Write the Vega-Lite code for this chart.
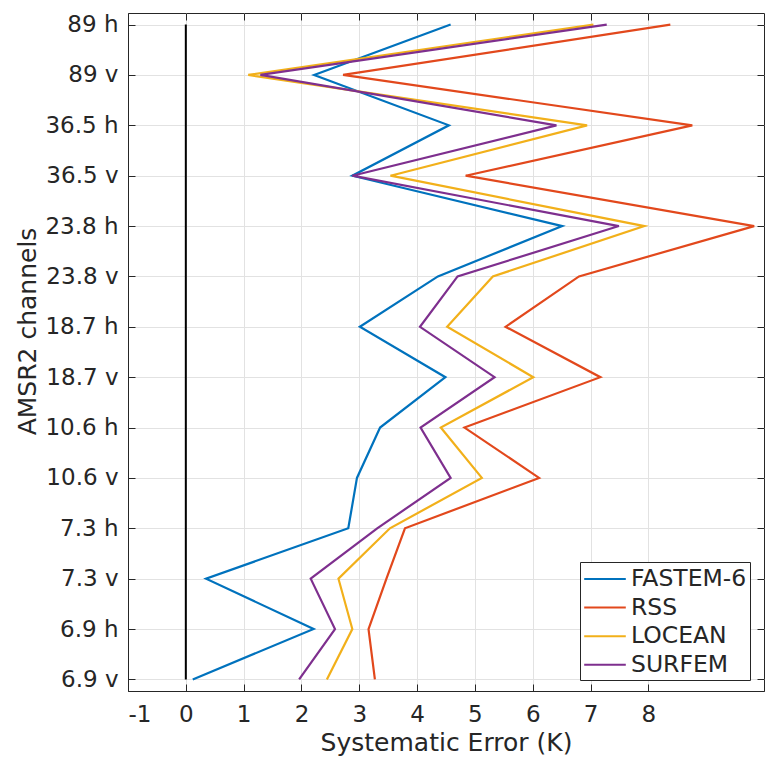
{
  "$schema": "https://vega.github.io/schema/vega-lite/v6.json",
  "width": 636,
  "height": 678,
  "padding": {"left": 128, "top": 13, "right": 2, "bottom": 69},
  "autosize": {"type": "none"},
  "background": "white",
  "config": {
    "font": "DejaVu Sans",
    "view": {"stroke": "#262626", "strokeWidth": 1},
    "axis": {
      "labelFont": "DejaVu Sans",
      "titleFont": "DejaVu Sans",
      "labelFontSize": 23,
      "titleFontSize": 25,
      "labelColor": "#262626",
      "titleColor": "#262626",
      "titleFontWeight": "normal",
      "domainColor": "#262626",
      "tickColor": "#262626",
      "tickSize": -7,
      "gridColor": "#e2e2e2",
      "gridWidth": 1
    }
  },
  "datasets": {
    "errors": [
      {"model": "FASTEM-6", "idx": 1, "ch": "6.9 v", "err": 0.12},
      {"model": "FASTEM-6", "idx": 2, "ch": "6.9 h", "err": 2.21},
      {"model": "FASTEM-6", "idx": 3, "ch": "7.3 v", "err": 0.35},
      {"model": "FASTEM-6", "idx": 4, "ch": "7.3 h", "err": 2.81},
      {"model": "FASTEM-6", "idx": 5, "ch": "10.6 v", "err": 2.96},
      {"model": "FASTEM-6", "idx": 6, "ch": "10.6 h", "err": 3.36},
      {"model": "FASTEM-6", "idx": 7, "ch": "18.7 v", "err": 4.49},
      {"model": "FASTEM-6", "idx": 8, "ch": "18.7 h", "err": 3.01},
      {"model": "FASTEM-6", "idx": 9, "ch": "23.8 v", "err": 4.36},
      {"model": "FASTEM-6", "idx": 10, "ch": "23.8 h", "err": 6.51},
      {"model": "FASTEM-6", "idx": 11, "ch": "36.5 v", "err": 2.88},
      {"model": "FASTEM-6", "idx": 12, "ch": "36.5 h", "err": 4.55},
      {"model": "FASTEM-6", "idx": 13, "ch": "89 v", "err": 2.22},
      {"model": "FASTEM-6", "idx": 14, "ch": "89 h", "err": 4.58},
      {"model": "RSS", "idx": 1, "ch": "6.9 v", "err": 3.27},
      {"model": "RSS", "idx": 2, "ch": "6.9 h", "err": 3.16},
      {"model": "RSS", "idx": 3, "ch": "7.3 v", "err": 3.47},
      {"model": "RSS", "idx": 4, "ch": "7.3 h", "err": 3.79},
      {"model": "RSS", "idx": 5, "ch": "10.6 v", "err": 6.11},
      {"model": "RSS", "idx": 6, "ch": "10.6 h", "err": 4.82},
      {"model": "RSS", "idx": 7, "ch": "18.7 v", "err": 7.17},
      {"model": "RSS", "idx": 8, "ch": "18.7 h", "err": 5.53},
      {"model": "RSS", "idx": 9, "ch": "23.8 v", "err": 6.80},
      {"model": "RSS", "idx": 10, "ch": "23.8 h", "err": 9.83},
      {"model": "RSS", "idx": 11, "ch": "36.5 v", "err": 4.84},
      {"model": "RSS", "idx": 12, "ch": "36.5 h", "err": 8.76},
      {"model": "RSS", "idx": 13, "ch": "89 v", "err": 2.72},
      {"model": "RSS", "idx": 14, "ch": "89 h", "err": 8.38},
      {"model": "LOCEAN", "idx": 1, "ch": "6.9 v", "err": 2.44},
      {"model": "LOCEAN", "idx": 2, "ch": "6.9 h", "err": 2.88},
      {"model": "LOCEAN", "idx": 3, "ch": "7.3 v", "err": 2.64},
      {"model": "LOCEAN", "idx": 4, "ch": "7.3 h", "err": 3.53},
      {"model": "LOCEAN", "idx": 5, "ch": "10.6 v", "err": 5.12},
      {"model": "LOCEAN", "idx": 6, "ch": "10.6 h", "err": 4.41},
      {"model": "LOCEAN", "idx": 7, "ch": "18.7 v", "err": 6.01},
      {"model": "LOCEAN", "idx": 8, "ch": "18.7 h", "err": 4.52},
      {"model": "LOCEAN", "idx": 9, "ch": "23.8 v", "err": 5.31},
      {"model": "LOCEAN", "idx": 10, "ch": "23.8 h", "err": 7.93},
      {"model": "LOCEAN", "idx": 11, "ch": "36.5 v", "err": 3.54},
      {"model": "LOCEAN", "idx": 12, "ch": "36.5 h", "err": 6.94},
      {"model": "LOCEAN", "idx": 13, "ch": "89 v", "err": 1.08},
      {"model": "LOCEAN", "idx": 14, "ch": "89 h", "err": 7.05},
      {"model": "SURFEM", "idx": 1, "ch": "6.9 v", "err": 1.96},
      {"model": "SURFEM", "idx": 2, "ch": "6.9 h", "err": 2.58},
      {"model": "SURFEM", "idx": 3, "ch": "7.3 v", "err": 2.16},
      {"model": "SURFEM", "idx": 4, "ch": "7.3 h", "err": 3.31},
      {"model": "SURFEM", "idx": 5, "ch": "10.6 v", "err": 4.58},
      {"model": "SURFEM", "idx": 6, "ch": "10.6 h", "err": 4.06},
      {"model": "SURFEM", "idx": 7, "ch": "18.7 v", "err": 5.34},
      {"model": "SURFEM", "idx": 8, "ch": "18.7 h", "err": 4.05},
      {"model": "SURFEM", "idx": 9, "ch": "23.8 v", "err": 4.70},
      {"model": "SURFEM", "idx": 10, "ch": "23.8 h", "err": 7.49},
      {"model": "SURFEM", "idx": 11, "ch": "36.5 v", "err": 2.88},
      {"model": "SURFEM", "idx": 12, "ch": "36.5 h", "err": 6.41},
      {"model": "SURFEM", "idx": 13, "ch": "89 v", "err": 1.29},
      {"model": "SURFEM", "idx": 14, "ch": "89 h", "err": 7.28}
    ],
    "zeroLine": [
      {"ch": "6.9 v", "err": 0},
      {"ch": "89 h", "err": 0}
    ]
  },
  "resolve": {"axis": {"x": "independent", "y": "independent"}},
  "layer": [
    {
      "data": {"name": "zeroLine"},
      "mark": {"type": "line", "color": "black", "strokeWidth": 2},
      "encoding": {
        "x": {
          "field": "err",
          "type": "quantitative",
          "scale": {"domain": [-1, 10], "nice": false, "zero": false},
          "axis": {"orient": "top", "labels": false, "grid": false, "title": null, "domain": false, "values": [-1, 0, 1, 2, 3, 4, 5, 6, 7, 8]}
        },
        "y": {
          "field": "ch",
          "type": "ordinal",
          "sort": ["89 h", "89 v", "36.5 h", "36.5 v", "23.8 h", "23.8 v", "18.7 h", "18.7 v", "10.6 h", "10.6 v", "7.3 h", "7.3 v", "6.9 h", "6.9 v"],
          "scale": {"type": "point", "padding": 0.23},
          "axis": {"orient": "right", "labels": false, "grid": false, "title": null, "domain": false}
        }
      }
    },
    {
      "data": {"name": "errors"},
      "mark": {"type": "line", "strokeWidth": 2.2, "clip": true},
      "encoding": {
        "x": {
          "field": "err",
          "type": "quantitative",
          "scale": {"domain": [-1, 10], "nice": false, "zero": false},
          "axis": {
            "orient": "bottom",
            "title": "Systematic Error (K)",
            "values": [-1, 0, 1, 2, 3, 4, 5, 6, 7, 8],
            "labelExpr": "replace(datum.label, '\u2212', '-')",
            "grid": true,
            "labelPadding": 19,
            "titlePadding": 4
          }
        },
        "y": {
          "field": "ch",
          "type": "ordinal",
          "sort": ["89 h", "89 v", "36.5 h", "36.5 v", "23.8 h", "23.8 v", "18.7 h", "18.7 v", "10.6 h", "10.6 v", "7.3 h", "7.3 v", "6.9 h", "6.9 v"],
          "scale": {"type": "point", "padding": 0.23},
          "axis": {
            "orient": "left",
            "title": "AMSR2 channels",
            "grid": true,
            "labelPadding": 17,
            "titleX": -101,
            "titleY": 318,
            "titleBaseline": "middle",
            "titleAlign": "center"
          }
        },
        "order": {"field": "idx", "type": "quantitative"},
        "color": {
          "field": "model",
          "type": "nominal",
          "sort": ["FASTEM-6", "RSS", "LOCEAN", "SURFEM"],
          "scale": {
            "domain": ["FASTEM-6", "RSS", "LOCEAN", "SURFEM"],
            "range": ["#0072BD", "#E2481C", "#F2B01A", "#7E2F8E"]
          },
          "legend": {
            "title": null,
            "orient": "none",
            "legendX": 452,
            "legendY": 549,
            "padding": 3,
            "strokeColor": "#262626",
            "fillColor": "white",
            "symbolType": "M-1.6,0H1.6",
            "symbolSize": 676,
            "symbolStrokeWidth": 2,
            "symbolOffset": 8,
            "labelOffset": 12,
            "labelFont": "DejaVu Sans",
            "labelFontSize": 23.5,
            "labelColor": "#262626",
            "rowPadding": 2.6
          }
        }
      }
    }
  ]
}
